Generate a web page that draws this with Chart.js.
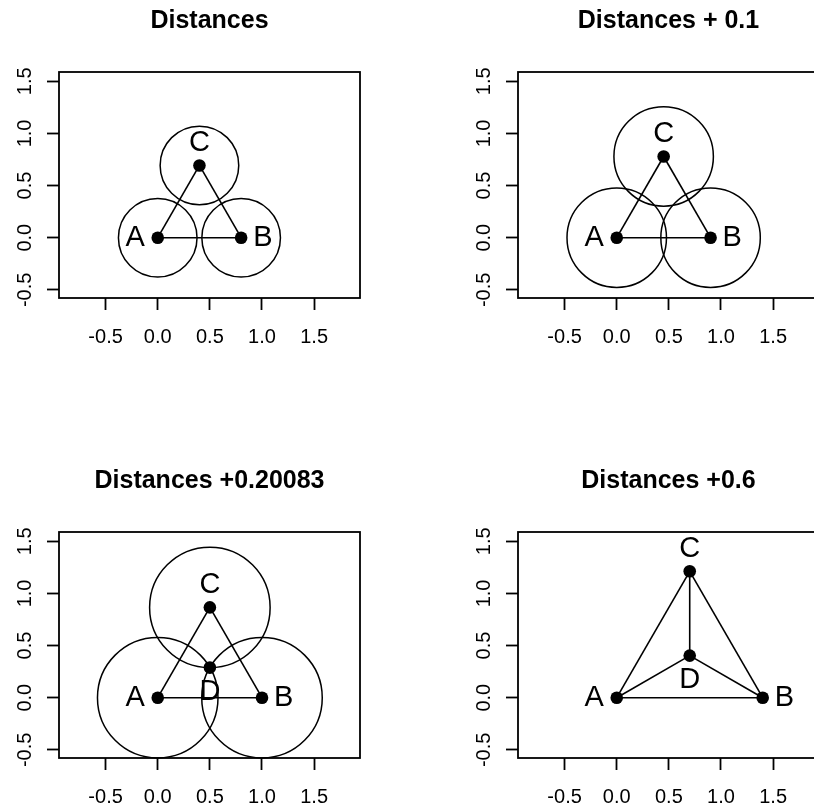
<!DOCTYPE html>
<html>
<head>
<meta charset="utf-8">
<script src="https://cdn.jsdelivr.net/npm/chart.js@4"></script>
<style>
  html, body { margin: 0; padding: 0; background: #fff; }
  body { width: 814px; height: 808px; overflow: hidden; position: relative; }
  canvas { position: absolute; }
</style>
</head>
<body>
<canvas id="p0" width="459" height="460" style="left:0;top:0"></canvas>
<canvas id="p1" width="459" height="460" style="left:459px;top:0"></canvas>
<canvas id="p2" width="459" height="460" style="left:0;top:460px"></canvas>
<canvas id="p3" width="459" height="460" style="left:459px;top:460px"></canvas>
<script>
// Panel titles
const titles = ["Distances", "Distances + 0.1", "Distances +0.20083", "Distances +0.6"];

// Point names and coordinates for each panel
const pointNames = ["A", "B", "C", "D"];
const pointX = [
  [0, 0.8, 0.4],
  [0, 0.9, 0.45],
  [0, 1.0, 0.5, 0.5],
  [0, 1.4, 0.7, 0.7]
];
const pointY = [
  [0, 0, 0.693],
  [0, 0, 0.779],
  [0, 0, 0.866, 0.289],
  [0, 0, 1.212, 0.404]
];

// Radius of the circle drawn round A, B and C (none in the last panel)
const circleRadius = [0.377, 0.477, 0.578, null];
const circledPoints = ["A", "B", "C"];

// Segments joining the points
const edges = [
  ["AB", "AC", "BC"],
  ["AB", "AC", "BC"],
  ["AB", "AC", "BC"],
  ["AB", "AC", "BC", "AD", "BD", "CD"]
];

// Axes
const xLimits = [-0.947, 1.94];
const yLimits = [-0.578, 1.589];
const tickValues = [-0.5, 0, 0.5, 1, 1.5];
const tickLabels = ["-0.5", "0.0", "0.5", "1.0", "1.5"];

const FONT = "'Liberation Sans', Arial, Helvetica, sans-serif";
Chart.defaults.font.family = FONT;
Chart.defaults.color = '#000';

// Placement of the point names around their markers
const labelPlacement = {
  A: { align: 'right', dx: -13, dy: 8.5 },
  B: { align: 'left', dx: 12, dy: 8.5 },
  C: { align: 'center', dx: 0, dy: -14.5 },
  D: { align: 'center', dx: 0, dy: 32 }
};

const framePlugin = {
  id: 'frame',
  afterDatasetsDraw(chart) {
    const { ctx, chartArea: a } = chart;
    ctx.save();
    ctx.strokeStyle = '#000';
    ctx.lineWidth = 1.8;
    ctx.strokeRect(a.left, a.top, a.right - a.left, a.bottom - a.top);
    ctx.restore();
  }
};

const pointLabelPlugin = {
  id: 'pointLabels',
  afterDatasetsDraw(chart) {
    const meta = chart.getDatasetMeta(0);
    const names = chart.data.datasets[0].names;
    const ctx = chart.ctx;
    ctx.save();
    ctx.fillStyle = '#000';
    ctx.font = "29px " + FONT;
    ctx.textBaseline = 'alphabetic';
    meta.data.forEach((el, i) => {
      const p = labelPlacement[names[i]];
      ctx.textAlign = p.align;
      ctx.fillText(names[i], el.x + p.dx, el.y + p.dy);
    });
    ctx.restore();
  }
};

function axisOptions(limits, isY) {
  const o = {
    type: 'linear',
    min: limits[0],
    max: limits[1],
    afterBuildTicks: s => { s.ticks = tickValues.map(v => ({ value: v })); },
    afterFit: s => { if (isY) s.width = 59; else s.height = 60; },
    grid: {
      display: true,
      drawOnChartArea: false,
      drawTicks: true,
      tickLength: 12,
      tickWidth: 1.8,
      tickColor: '#000'
    },
    border: { display: false },
    ticks: {
      autoSkip: false,
      color: '#000',
      font: { size: 20, family: FONT },
      callback: (v, i) => tickLabels[i]
    }
  };
  if (isY) {
    o.ticks.minRotation = 90;
    o.ticks.maxRotation = 90;
    o.ticks.crossAlign = 'center';
    o.ticks.padding = 4;
  } else {
    o.ticks.maxRotation = 0;
    o.ticks.padding = 15.5;
  }
  return o;
}

function buildPanel(k) {
  const names = pointNames.slice(0, pointX[k].length);
  const pts = names.map((n, i) => ({ x: pointX[k][i], y: pointY[k][i] }));
  const byName = {};
  names.forEach((n, i) => { byName[n] = pts[i]; });

  const datasets = [];
  // markers (first so they sit on top)
  datasets.push({
    type: 'scatter',
    names: names,
    data: pts,
    pointRadius: 6.3,
    pointBackgroundColor: '#000',
    pointBorderWidth: 0,
    showLine: false
  });
  // segments
  edges[k].forEach(e => {
    datasets.push({
      type: 'scatter',
      data: [byName[e[0]], byName[e[1]]],
      showLine: true,
      borderColor: '#000',
      borderWidth: 1.6,
      pointRadius: 0,
      fill: false
    });
  });
  // circles: radius given in data units, converted to pixels through the x scale
  if (circleRadius[k] !== null) {
    const rad = circleRadius[k];
    datasets.push({
      type: 'scatter',
      data: circledPoints.map(n => byName[n]),
      showLine: false,
      pointRadius: ctx => {
        const s = ctx.chart.scales.x;
        return Math.abs(s.getPixelForValue(rad) - s.getPixelForValue(0));
      },
      pointBackgroundColor: 'rgba(0,0,0,0)',
      pointBorderColor: '#000',
      pointBorderWidth: 1.5,
      clip: false
    });
  }

  new Chart(document.getElementById('p' + k), {
    type: 'scatter',
    data: { datasets },
    options: {
      responsive: false,
      devicePixelRatio: 1,
      animation: false,
      events: [],
      layout: { padding: { left: 0, right: 99, top: 0, bottom: 102 } },
      plugins: {
        legend: { display: false },
        tooltip: { enabled: false },
        title: {
          display: true,
          text: titles[k],
          fullSize: false,
          color: '#000',
          font: { size: 25, weight: 'bold', family: FONT },
          padding: { top: 6, bottom: 36 }
        }
      },
      scales: {
        x: axisOptions(xLimits, false),
        y: axisOptions(yLimits, true)
      }
    },
    plugins: [framePlugin, pointLabelPlugin]
  });
}

for (let k = 0; k < 4; k++) buildPanel(k);
</script>
</body>
</html>
